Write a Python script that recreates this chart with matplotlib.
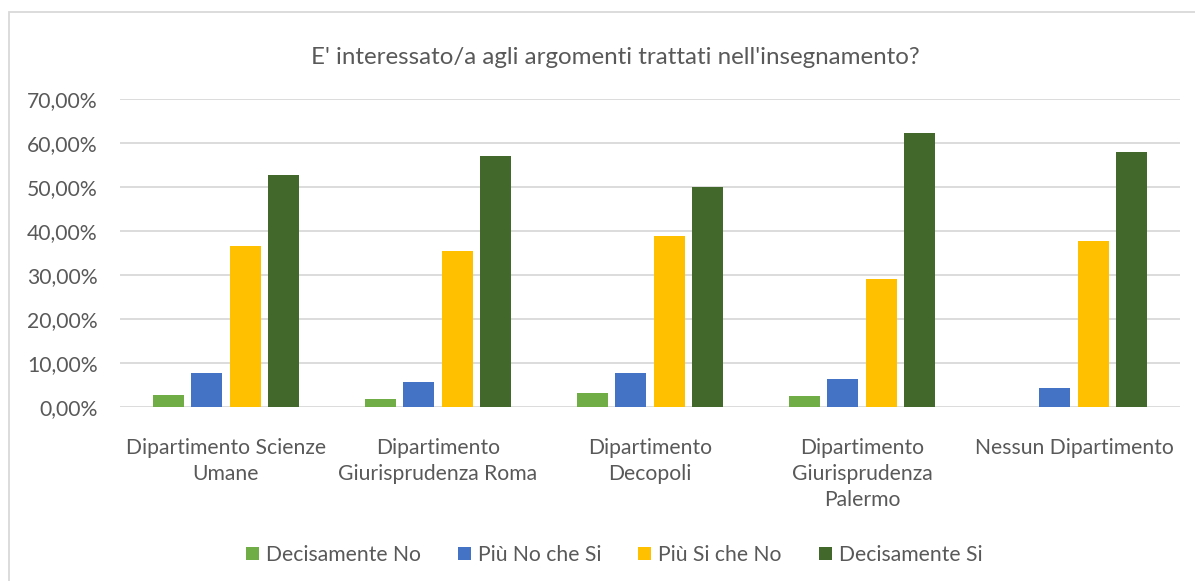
import matplotlib
matplotlib.use('Agg')
from matplotlib import pyplot as plt
from matplotlib.patches import Rectangle, Patch
from matplotlib.ticker import FuncFormatter
import numpy as np

plt.rcParams['font.family'] = ['Lato', 'DejaVu Sans']

categories = ['Dipartimento Scienze\nUmane', 'Dipartimento\nGiurisprudenza Roma',
              'Dipartimento\nDecopoli', 'Dipartimento\nGiurisprudenza\nPalermo',
              'Nessun Dipartimento']
series_names = ['Decisamente No', 'Più No che Si', 'Più Si che No', 'Decisamente Si']
decisamente_no = [2.7, 1.9, 3.1, 2.4, 0.0]
piu_no_che_si = [7.7, 5.6, 7.7, 6.3, 4.3]
piu_si_che_no = [36.5, 35.4, 38.8, 29.0, 37.7]
decisamente_si = [52.8, 57.0, 49.9, 62.2, 57.9]
colors = ['#70AD47', '#4472C4', '#FFC000', '#43682B']

text_color = '#595959'
fs = 15.2

fig = plt.figure(figsize=(11.95, 5.81), dpi=100)
ax = fig.add_axes([120 / 1195, 1 - 407 / 581, 1060 / 1195, 308 / 581])

x = np.arange(len(categories))
step = 0.181
width = 0.146
all_series = [decisamente_no, piu_no_che_si, piu_si_che_no, decisamente_si]
for i, (vals, col) in enumerate(zip(all_series, colors)):
    ax.bar(x + (i - 1.5) * step, vals, width=width, color=col, zorder=3)

ax.set_xlim(-0.5, len(categories) - 0.5)
ax.set_ylim(0, 70)
ax.set_yticks(range(0, 71, 10))
ax.yaxis.set_major_formatter(FuncFormatter(lambda v, p: f'{v:.2f}%'.replace('.', ',')))
ax.grid(axis='y', color='#D9D9D9', linewidth=1.3, zorder=0)
for s in ax.spines.values():
    s.set_visible(False)
ax.tick_params(axis='y', length=0, pad=16, labelsize=fs, labelcolor=text_color)
ax.set_xticks(x)
ax.set_xticklabels(categories, fontsize=fs, color=text_color, linespacing=1.38)
ax.tick_params(axis='x', length=0, pad=22)

fig.text(615 / 1195, 1 - 58 / 581,
         "E' interessato/a agli argomenti trattati nell'insegnamento?",
         ha='center', va='center', fontsize=17.4, color=text_color)

handles = [Patch(facecolor=c, edgecolor='none') for c in colors]
fig.legend(handles, series_names, loc='center', ncol=4,
           bbox_to_anchor=(614 / 1195, 1 - 555 / 581), frameon=False,
           fontsize=fs, labelcolor=text_color, handlelength=0.62,
           handleheight=0.62, handletextpad=0.33, columnspacing=1.75)

fig.patches.append(Rectangle((9 / 1195, -0.1), 1.2, 1.1 - 12 / 581,
                             transform=fig.transFigure, fill=False,
                             edgecolor='#D9D9D9', linewidth=1.3))

fig.savefig('out.png', dpi=100)
